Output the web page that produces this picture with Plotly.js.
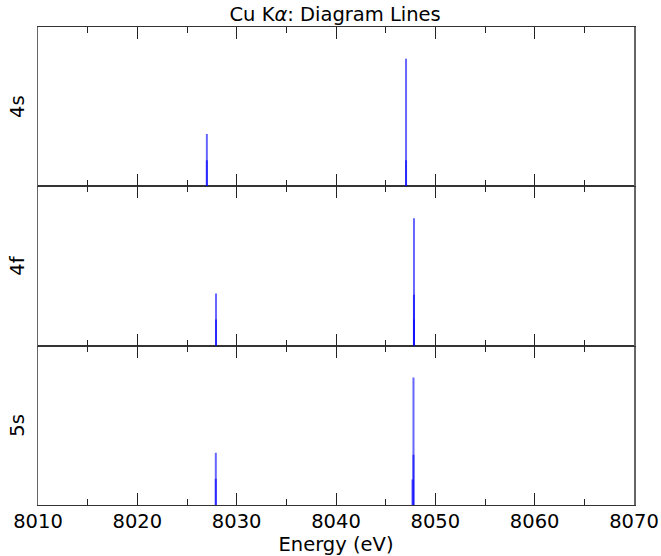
<!DOCTYPE html>
<html>
<head>
<meta charset="utf-8">
<script src="https://cdn.plot.ly/plotly-3.0.1.min.js"></script>
<style>html,body{margin:0;padding:0;background:#fff;}#chart{width:661px;height:556px;}</style>
</head>
<body>
<div id="chart"></div>
<script>
// Stick spectra (normalized intensity), one set per configuration
const panels = ["4s", "4f", "5s"];
const energies4s = [8027.0, 8027.0, 8047.05, 8047.05];
const intens4s   = [0.41, 0.205, 1.0, 0.205];
const energies4f = [8027.92, 8027.92, 8047.85, 8047.85, 8047.85];
const intens4f   = [0.41, 0.205, 1.0, 0.40, 0.205];
const energies5s = [8027.9, 8027.9, 8047.8, 8047.8, 8047.7];
const intens5s   = [0.41, 0.205, 1.0, 0.395, 0.20];
const xTicks = [8010, 8020, 8030, 8040, 8050, 8060, 8070];

const sets = [
  {e: energies4s, h: intens4s, ax: 3},
  {e: energies4f, h: intens4f, ax: 2},
  {e: energies5s, h: intens5s, ax: 1}
];

const traces = [];
sets.forEach(s => {
  s.e.forEach((en, i) => {
    traces.push({
      type: 'scatter', mode: 'lines',
      x: [en, en], y: [0, s.h[i]],
      xaxis: s.ax === 1 ? 'x' : 'x' + s.ax,
      yaxis: s.ax === 1 ? 'y' : 'y' + s.ax,
      line: {color: 'rgba(0,0,255,0.6)', width: 2},
      hoverinfo: 'skip', showlegend: false
    });
  });
});

const FONT = '"DejaVu Sans", sans-serif';
const FS = 19.5;
const lineCol = '#333';
function xax(anchor, showLabels) {
  return {
    anchor: anchor, range: [8010, 8070], tickvals: xTicks,
    ticks: 'inside', ticklen: 12, tickwidth: 1, tickcolor: '#222',
    minor: {dtick: 5, tick0: 8010, ticks: 'inside', ticklen: 6, tickwidth: 1, tickcolor: '#222'},
    showline: true, linecolor: lineCol, linewidth: 1, mirror: 'allticks',
    showgrid: false, zeroline: false,
    showticklabels: showLabels, ticklabelstandoff: -1,
    tickfont: {family: FONT, size: FS, color: '#000'},
    fixedrange: true
  };
}
function yax(dom, anchor, label) {
  return {
    domain: dom, anchor: anchor, range: [0, 1.25],
    showline: true, linecolor: '#666', linewidth: 1.5, mirror: true,
    ticks: '', showticklabels: false, showgrid: false, zeroline: false,
    title: {text: label, font: {family: FONT, size: FS, color: '#000'}, standoff: 6},
    fixedrange: true
  };
}

const xa1 = xax('y', true);
xa1.title = {text: 'Energy (eV)', font: {family: FONT, size: FS, color: '#000'}, standoff: 2};
const xa2 = xax('y2', false); xa2.matches = 'x';
const xa3 = xax('y3', false); xa3.matches = 'x';

const layout = {
  width: 661, height: 556,
  margin: {l: 38, r: 27, t: 27, b: 51},
  paper_bgcolor: '#fff', plot_bgcolor: '#fff',
  title: {text: 'Cu K<i>α</i>: Diagram Lines', x: 0.507, xanchor: 'center', y: 0.974, yanchor: 'middle', yref: 'container',
          font: {family: FONT, size: FS, color: '#000'}},
  xaxis: xa1, xaxis2: xa2, xaxis3: xa3,
  yaxis: yax([0, 1/3], 'x', panels[2]),
  yaxis2: yax([1/3, 2/3], 'x2', panels[1]),
  yaxis3: yax([2/3, 1], 'x3', panels[0]),
  showlegend: false
};

Plotly.newPlot('chart', traces, layout, {staticPlot: true, displayModeBar: false});
</script>
</body>
</html>
